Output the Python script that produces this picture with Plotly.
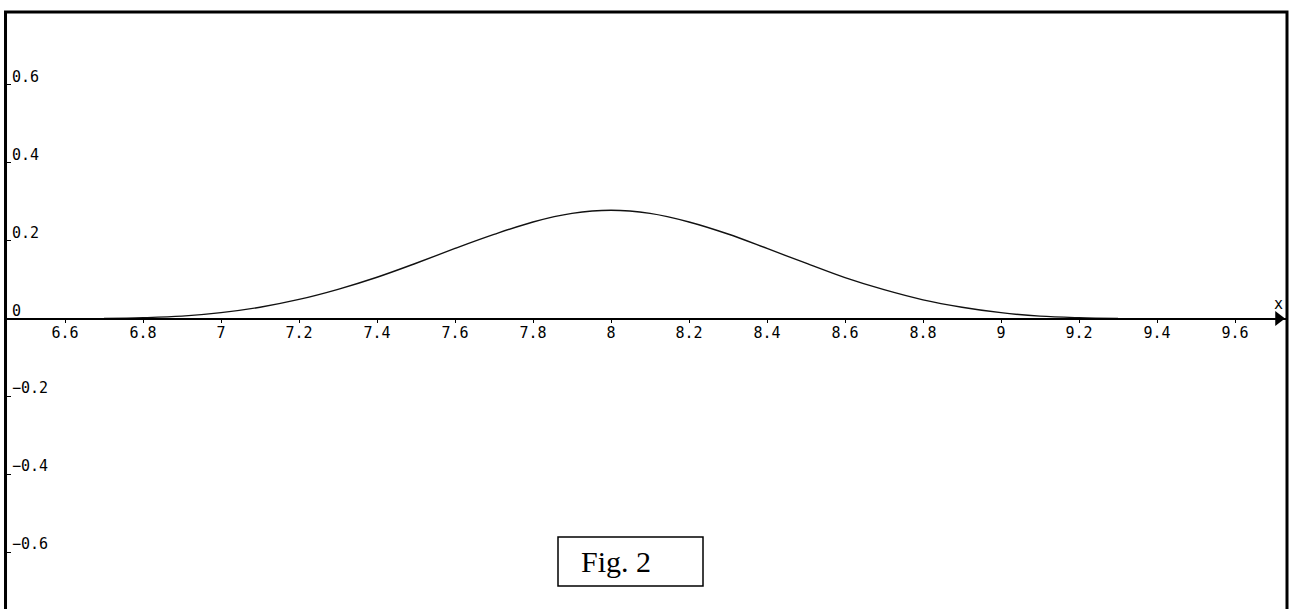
import plotly.graph_objects as go

# Curve values
x_vals = [6.7, 6.8, 6.9, 7.0, 7.1, 7.2, 7.3, 7.4, 7.5, 7.6, 7.7, 7.8, 7.9, 8.0,
          8.1, 8.2, 8.3, 8.4, 8.5, 8.6, 8.7, 8.8, 8.9, 9.0, 9.1, 9.2, 9.3]
y_vals = [0.000, 0.002, 0.006, 0.015, 0.029, 0.049, 0.075, 0.106, 0.142, 0.180,
          0.216, 0.248, 0.270, 0.278, 0.270, 0.248, 0.217, 0.180, 0.142, 0.105,
          0.074, 0.048, 0.029, 0.015, 0.006, 0.002, 0.000]

x_ticks = [6.6, 6.8, 7.0, 7.2, 7.4, 7.6, 7.8, 8.0, 8.2, 8.4, 8.6, 8.8, 9.0, 9.2, 9.4, 9.6]
x_tick_labels = ["6.6", "6.8", "7", "7.2", "7.4", "7.6", "7.8", "8", "8.2", "8.4",
                 "8.6", "8.8", "9", "9.2", "9.4", "9.6"]
y_ticks = [0.6, 0.4, 0.2, 0.0, -0.2, -0.4, -0.6]
y_tick_labels = ["0.6", "0.4", "0.2", "0", "\u22120.2", "\u22120.4", "\u22120.6"]

X_RANGE = [6.44615, 9.73333]
Y_RANGE = [-0.7462, 0.7873]
MONO = "DejaVu Sans Mono"

fig = go.Figure()
fig.add_trace(go.Scatter(
    x=x_vals, y=y_vals, mode="lines",
    line=dict(color="#111111", width=1.4, shape="spline", smoothing=1.0),
    hoverinfo="skip", showlegend=False, cliponaxis=False,
))
# arrow head at the end of the x axis
fig.add_trace(go.Scatter(
    x=[9.7115], y=[0], mode="markers",
    marker=dict(symbol="triangle-right", size=13, color="black", line=dict(width=0)),
    hoverinfo="skip", showlegend=False, cliponaxis=False,
))

annotations = []
for v, t in zip(y_ticks, y_tick_labels):
    annotations.append(dict(
        x=0, xref="paper", y=v, yref="y", text=t, showarrow=False,
        xanchor="left", yanchor="middle", xshift=5, yshift=8,
        font=dict(family=MONO, size=15, color="black"),
    ))
annotations.append(dict(
    x=(1278 - 5) / 1282, xref="paper", y=0, yref="y", text="x", showarrow=False,
    xanchor="center", yanchor="middle", yshift=15,
    font=dict(family=MONO, size=15, color="black"),
))
annotations.append(dict(
    x=(616 - 5) / 1282, xref="paper", y=(609 - 561) / 597, yref="paper",
    text="Fig. 2", showarrow=False, xanchor="center", yanchor="middle",
    font=dict(family="Liberation Serif", size=30, color="black"),
))

shapes = [
    dict(type="rect", xref="paper", yref="paper", x0=0.0004, x1=1.0, y0=-0.1, y1=1.0,
         line=dict(color="black", width=3), layer="above"),
    dict(type="rect", xref="paper", yref="paper",
         x0=(558 - 5) / 1282, x1=(703 - 5) / 1282,
         y0=(609 - 586) / 597, y1=(609 - 537) / 597,
         line=dict(color="black", width=1.5), fillcolor="rgba(0,0,0,0)"),
]

fig.update_layout(
    width=1293, height=609,
    margin=dict(l=5, r=6, t=12, b=0, pad=0),
    paper_bgcolor="white", plot_bgcolor="white",
    showlegend=False,
    annotations=annotations, shapes=shapes,
    xaxis=dict(
        range=X_RANGE, showgrid=False, zeroline=False,
        showline=True, linecolor="black", linewidth=1.5,
        ticks="outside", ticklen=4, tickwidth=1, tickcolor="black",
        tickvals=x_ticks, ticktext=x_tick_labels,
        tickfont=dict(family=MONO, size=15, color="black"),
        anchor="free", position=290.5 / 597, ticklabelstandoff=-3,
    ),
    yaxis=dict(
        range=Y_RANGE, showgrid=False, zeroline=False, showline=False,
        ticks="inside", ticklen=6, tickwidth=1, tickcolor="black",
        tickvals=y_ticks, showticklabels=False,
    ),
)

fig.write_html("out.html")
